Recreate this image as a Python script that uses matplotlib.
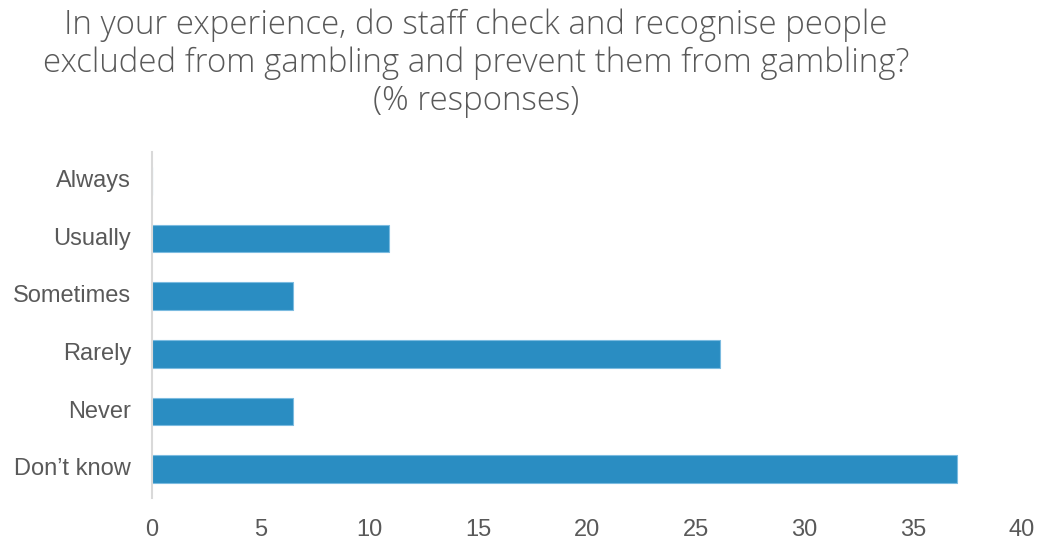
import matplotlib
matplotlib.use("Agg")
from matplotlib import pyplot as plt

categories = ["Always", "Usually", "Sometimes", "Rarely", "Never", "Don\u2019t know"]
responses = [0, 10.9, 6.5, 26.1, 6.5, 37.0]
x_ticks = [0, 5, 10, 15, 20, 25, 30, 35, 40]

title = ("In your experience, do staff check and recognise people\n"
         "excluded from gambling and prevent them from gambling?\n"
         "(% responses)")

bar_color = "#2a8dc2"
text_color = "#595959"

plt.rcParams["font.family"] = ["Liberation Sans", "DejaVu Sans"]

fig = plt.figure(figsize=(10.42, 5.39), dpi=100)
ax = fig.add_axes([152 / 1042, 1 - 498 / 539, 870 / 1042, 346 / 539])

y = list(range(len(categories)))
ax.barh(y, responses, height=0.48, color=bar_color, edgecolor="#7bbbe0", linewidth=0.8)

# first category at the top
ax.set_ylim(len(categories) - 0.5, -0.5)
ax.set_xlim(0, 40)
ax.set_yticks(y)
ax.set_yticklabels(categories, va="center")
ax.set_xticks(x_ticks)
ax.tick_params(axis="both", length=0, labelsize=17, labelcolor=text_color)
ax.tick_params(axis="y", pad=15)
ax.tick_params(axis="x", pad=15)

for side in ["top", "right", "bottom"]:
    ax.spines[side].set_visible(False)
ax.spines["left"].set_color("#d9d9d9")
ax.spines["left"].set_linewidth(1.5)

fig.text(476 / 1042, 1 - 8 / 539, title, ha="center", va="top",
         fontsize=23.8, color=text_color, family=["Open Sans", "DejaVu Sans"],
         fontweight="light", linespacing=1.19)

fig.savefig("out.png", dpi=100)
